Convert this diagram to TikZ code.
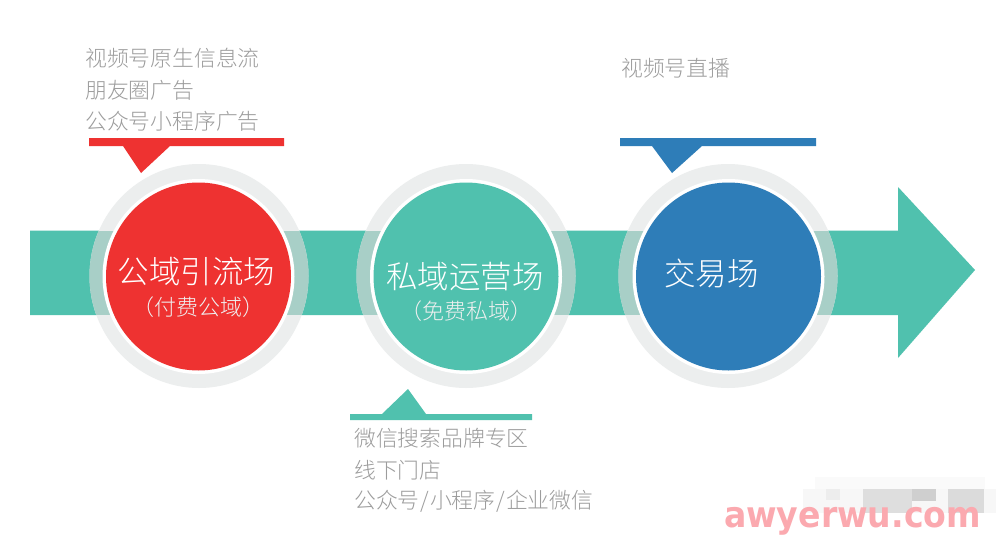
\documentclass[tikz,border=0pt]{standalone}
\usepackage{fontspec}
\usetikzlibrary{shapes.geometric}
\newfontfamily\cjk{Noto Sans CJK SC Light}
\newfontfamily\wm{DejaVu Sans}
\definecolor{tealm}{HTML}{50C1AE}
\definecolor{redm}{HTML}{EE3231}
\definecolor{bluem}{HTML}{2E7DB8}
\definecolor{ringg}{HTML}{ECEEEE}
\definecolor{ringt}{HTML}{A8CFC7}
\definecolor{textg}{HTML}{9C9C9C}
\definecolor{wmpink}{HTML}{FBA9AF}
\tikzset{
  x=1pt,y=-1pt,
  ringc/.style={ellipse,minimum width=219pt,minimum height=224pt,inner sep=0pt,fill=ringg,draw=none},
  gapc/.style={ellipse,minimum width=192pt,minimum height=195pt,inner sep=0pt,fill=white,draw=none},
  corec/.style={ellipse,minimum width=185pt,minimum height=188pt,inner sep=0pt,draw=none},
  sidetext/.style={anchor=west,text=textg,font=\cjk\fontsize{21.8}{26}\selectfont,inner sep=0pt},
  maintext/.style={text=white,font=\cjk\fontsize{31.5}{36}\selectfont,inner sep=0pt},
  subtext/.style={text=white!88!gray,font=\cjk\fontsize{22}{26}\selectfont,inner sep=0pt},
  mosaic/.style={draw=none,fill=#1},
}
\begin{document}
\begin{tikzpicture}
\useasboundingbox (0,0) rectangle (1000,546);
\fill[white] (0,0) rectangle (1000,546);
% main arrow
\fill[tealm] (30,230.5) -- (898,230.5) -- (898,187) -- (975,270) -- (898,358) -- (898,315) -- (30,315) -- cycle;
% circles
\node[ringc] (r1) at (199,276) {};
\node[ringc] (r2) at (466,276) {};
\node[ringc] (r3) at (728,276) {};
\foreach \cx in {199,466,728}{
  \begin{scope}
    \clip (\cx,276) ellipse [x radius=109.5, y radius=112];
    \fill[ringt] (\cx-120,230.5) rectangle (\cx+120,315);
  \end{scope}
}
\node[gapc] (g1) at (198.5,276.5) {};
\node[gapc] (g2) at (466,276.5) {};
\node[gapc] (g3) at (728.5,276.5) {};
\node[corec,fill=redm] (c1) at (198.5,276.5) {};
\node[corec,fill=tealm] (c2) at (466,276.5) {};
\node[corec,fill=bluem] (c3) at (728.5,276.5) {};
% circle labels
\node[maintext] (m1) at (196.5,272) {公域引流场};
\node[subtext] (s1) at (198.5,307) {（付费公域）};
\node[maintext] (m2) at (465,277) {私域运营场};
\node[subtext] (s2) at (466.5,311) {（免费私域）};
\node[maintext] (m3) at (711.5,273) {交易场};
% callouts
\fill[redm] (89,138) -- (284,138) -- (284,146) -- (170,146) -- (141,173) -- (123,146) -- (89,146) -- cycle;
\fill[bluem] (620,138) -- (816,138) -- (816,146) -- (702,146) -- (672,173) -- (652,146) -- (620,146) -- cycle;
\fill[tealm] (350,420) -- (532,420) -- (532,414) -- (426,414) -- (408,389) -- (382,414) -- (350,414) -- cycle;
% side texts
\node[sidetext] (t1) at (85,58) {视频号原生信息流};
\node[sidetext] (t2) at (85,90) {朋友圈广告};
\node[sidetext] (t3) at (85,121) {公众号小程序广告};
\node[sidetext] (t4) at (621,68) {视频号直播};
\node[sidetext] (t5) at (354,438) {微信搜索品牌专区};
\node[sidetext] (t6) at (354,470) {线下门店};
\node[sidetext] (t7) at (354,501) {公众号\kern1pt/\kern1pt小程序\kern1pt/\kern1pt企业微信};
% watermark
\fill[mosaic=black!2] (815,477) rectangle (985,489);
\fill[mosaic=black!3] (803,489) rectangle (996,513);
\fill[mosaic=black!7] (826,489) rectangle (840,500);
\fill[mosaic=black!13] (863,489) rectangle (912,513);
\fill[mosaic=black!19] (912,489) rectangle (936,501);
\fill[mosaic=black!14] (948,489) rectangle (984,513);
\node[text=wmpink,font=\wm\bfseries\fontsize{36}{40}\selectfont,inner sep=0pt,anchor=base,xscale=0.92] (w) at (852.5,527) {awyerwu.com};
\end{tikzpicture}
\end{document}
